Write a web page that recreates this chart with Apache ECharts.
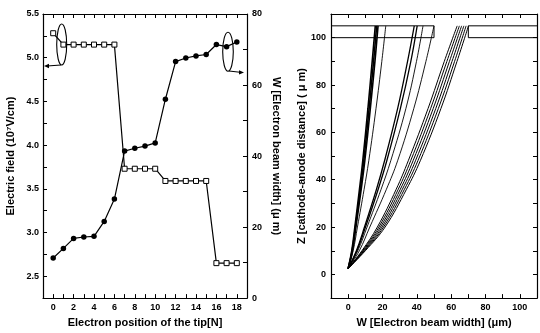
<!DOCTYPE html>
<html><head><meta charset="utf-8">
<script src="https://cdn.jsdelivr.net/npm/echarts@6/dist/echarts.min.js"></script>
<style>html,body{margin:0;padding:0;background:#fff}#c{width:540px;height:333px}</style>
</head><body><div id="c"></div>
<script>
// ---- Left panel data ----
const tipPositions = [0,1,2,3,4,5,6,7,8,9,10,11,12,13,14,15,16,17,18];
const electricField = [5.28,5.15,5.15,5.15,5.15,5.15,5.15,3.73,3.73,3.73,3.73,3.59,3.59,3.59,3.59,3.59,2.65,2.65,2.65];
const beamWidth = [11.3,14.0,16.8,17.2,17.4,21.6,27.9,41.4,42.2,42.8,43.7,56.0,66.6,67.6,68.2,68.6,71.4,70.8,72.1];
const tipTickLabels = [0,2,4,6,8,10,12,14,16,18];
const fieldTickLabels = [2.5,3.0,3.5,4.0,4.5,5.0,5.5];
const widthTickLabels = [0,20,40,60,80];

// ---- Right panel data: electron trajectories [W, Z] ----
const trajA1 = [[0,2.5],[2.1,10],[3.9,20],[6.6,36],[8.5,48],[11.5,70],[14.0,90],[15.8,105]];
const trajA2 = [[0,2.5],[2.3,10],[4.2,20],[7.1,36],[9.1,48],[12.2,70],[14.8,90],[16.6,105]];
const trajA3 = [[0,2.5],[2.5,10],[4.5,20],[7.6,36],[9.7,48],[12.9,70],[15.6,90],[17.4,105]];
const trajA4 = [[0,2.5],[2.9,10],[5.4,20],[9.3,36],[12.0,48],[16.2,70],[19.6,90],[21.9,105]];
const trajB1 = [[0,2.5],[4.8,10],[9.5,20],[16.5,36],[21.2,48],[28.8,70],[34.6,90],[38.5,105]];
const trajB2 = [[0,2.5],[5.1,10],[10.1,20],[17.5,36],[22.5,48],[30.4,70],[36.5,90],[40.2,105]];
const trajB3 = [[0,2.5],[5.6,10],[11.0,20],[19.2,36],[24.8,48],[33.6,70],[39.8,90],[43.6,105]];
const trajB4 = [[0,2.5],[6.5,10],[12.6,20],[22.3,36],[28.8,48],[38.2,70],[45.3,90],[50.0,105]];
const trajC1 = [[0,2.5],[8.0,10],[17.0,20],[28.0,36],[35.0,48],[46.5,70],[56.0,90],[63.5,105]];
const trajC2 = [[0,2.5],[8.4,10],[17.9,20],[29.2,36],[36.4,48],[48.0,70],[57.5,90],[64.8,105]];
const trajC3 = [[0,2.5],[8.8,10],[18.8,20],[30.4,36],[37.8,48],[49.5,70],[59.0,90],[66.1,105]];
const trajC4 = [[0,2.5],[9.2,10],[19.7,20],[31.6,36],[39.2,48],[51.0,70],[60.5,90],[67.4,105]];
const trajC5 = [[0,2.5],[9.6,10],[20.6,20],[32.8,36],[40.6,48],[52.5,70],[62.0,90],[68.7,105]];
const trajC6 = [[0,2.5],[10.0,10],[21.5,20],[34.0,36],[42.0,48],[54.0,70],[63.4,90],[70.1,105]];
const gateLeft = [[-10,105],[50,105],[50,100],[-10,100]];
const gateRight = [[110,105],[70,105],[70,100],[110,100]];
const wTickLabels = [0,20,40,60,80,100];
const zTickLabels = [0,20,40,60,80,100];

const FONT = '"Liberation Sans Narrow","Liberation Sans",Arial,sans-serif';
const lbl = {fontFamily: FONT, fontWeight: 'bold', fontSize: 9, color: '#000'};
const nameStyle = {fontFamily: FONT, fontWeight: 'bold', fontSize: 11, color: '#000'};
const axLine = {show: true, onZero: false, lineStyle: {color: '#000', width: 1.2}};
const tick = {show: true, inside: true, length: 4, lineStyle: {color: '#000', width: 1}};
const has = (arr, v) => arr.some(a => Math.abs(a - v) < 1e-6);

const chart = echarts.init(document.getElementById('c'), null, {renderer: 'canvas'});

const trajSeries = [];
const addTraj = (d, w) => trajSeries.push({type: 'line', xAxisIndex: 2, yAxisIndex: 2, data: d, smooth: 0.4, symbol: 'none', lineStyle: {color: '#000', width: w}, clip: true, silent: true});
[trajA1, trajA2, trajA3].forEach(d => addTraj(d, 1.6));
addTraj(trajA4, 0.9);
[trajB1, trajB2].forEach(d => addTraj(d, 1.3));
[trajB3, trajB4].forEach(d => addTraj(d, 0.9));
[trajC1, trajC2, trajC3, trajC4, trajC5, trajC6].forEach(d => addTraj(d, 1));
[gateLeft, gateRight].forEach(d => trajSeries.push({type: 'line', xAxisIndex: 2, yAxisIndex: 2, data: d, symbol: 'none', lineStyle: {color: '#000', width: 1}, clip: true, silent: true}));

chart.setOption({
  animation: false,
  backgroundColor: '#fff',
  grid: [
    {left: 43, top: 14, width: 204, height: 289},
    {left: 331, top: 14, width: 211, height: 285}
  ],
  xAxis: [
    {gridIndex: 0, type: 'value', position: 'bottom', min: -1, max: 19, interval: 1,
     axisLine: axLine, axisTick: tick, splitLine: {show: false},
     axisLabel: Object.assign({margin: 5, formatter: v => has(tipTickLabels, v) ? String(v) : ''}, lbl),
     name: 'Electron position of the tip[N]', nameLocation: 'middle', nameGap: 16, nameTextStyle: nameStyle},
    {gridIndex: 0, type: 'value', position: 'top', min: -1, max: 19, interval: 1,
     axisLine: axLine, axisTick: tick, axisLabel: {show: false}, splitLine: {show: false}},
    {gridIndex: 1, type: 'value', position: 'bottom', min: -10, max: 110, interval: 10,
     axisLine: axLine, axisTick: tick, splitLine: {show: false},
     axisLabel: Object.assign({margin: 5, formatter: v => has(wTickLabels, v) ? String(v) : ''}, lbl),
     name: 'W [Electron beam width] (\u03bcm)', nameLocation: 'middle', nameGap: 12, nameTextStyle: nameStyle},
    {gridIndex: 1, type: 'value', position: 'top', min: -10, max: 110, interval: 10,
     axisLine: axLine, axisTick: tick, axisLabel: {show: false}, splitLine: {show: false}}
  ],
  yAxis: [
    {gridIndex: 0, type: 'value', position: 'left', min: 2.25, max: 5.5, interval: 0.25,
     axisLine: axLine, axisTick: tick, splitLine: {show: false},
     axisLabel: Object.assign({margin: 4, formatter: v => has(fieldTickLabels, v) ? v.toFixed(1) : ''}, lbl),
     name: 'Electric field (10\u2077V/cm)', nameLocation: 'middle', nameGap: 27, nameTextStyle: nameStyle},
    {gridIndex: 0, type: 'value', position: 'right', min: 0, max: 80, interval: 10,
     axisLine: axLine, axisTick: tick, splitLine: {show: false},
     axisLabel: Object.assign({margin: 5, formatter: v => has(widthTickLabels, v) ? String(v) : ''}, lbl),
     name: 'W [Electron beam width] (\u03bc m)', nameLocation: 'middle', nameGap: 24, nameRotate: -90, nameTextStyle: nameStyle},
    {gridIndex: 1, type: 'value', position: 'left', min: -10, max: 110, interval: 10,
     axisLine: axLine, axisTick: tick, splitLine: {show: false},
     axisLabel: Object.assign({margin: 5, formatter: v => has(zTickLabels, v) ? String(v) : ''}, lbl),
     name: 'Z [cathode-anode distance] ( \u03bc m)', nameLocation: 'middle', nameGap: 24, nameTextStyle: nameStyle},
    {gridIndex: 1, type: 'value', position: 'right', min: -10, max: 110, interval: 10,
     axisLine: axLine, axisTick: tick, axisLabel: {show: false}, splitLine: {show: false}}
  ],
  series: [
    {type: 'line', xAxisIndex: 0, yAxisIndex: 0, data: tipPositions.map((x, i) => [x, electricField[i]]),
     symbol: 'rect', symbolSize: 5, lineStyle: {color: '#000', width: 1.2},
     itemStyle: {color: '#fff', borderColor: '#000', borderWidth: 1}},
    {type: 'line', xAxisIndex: 0, yAxisIndex: 1, data: tipPositions.map((x, i) => [x, beamWidth[i]]),
     symbol: 'circle', symbolSize: 5.5, lineStyle: {color: '#000', width: 1.2},
     itemStyle: {color: '#000', borderColor: '#000', borderWidth: 0}}
  ].concat(trajSeries),
  graphic: [
    {type: 'ellipse', shape: {cx: 61.7, cy: 44.5, rx: 5, ry: 20.5}, style: {fill: 'none', stroke: '#000', lineWidth: 1.1}},
    {type: 'polyline', shape: {points: [[61, 65], [47, 66]]}, style: {stroke: '#000', lineWidth: 1.1}},
    {type: 'polygon', shape: {points: [[44, 66], [49, 63.8], [49, 68.2]]}, style: {fill: '#000'}},
    {type: 'ellipse', shape: {cx: 228, cy: 51.7, rx: 5.3, ry: 19.5}, style: {fill: 'none', stroke: '#000', lineWidth: 1.1}},
    {type: 'polyline', shape: {points: [[229, 71], [240, 72.3]]}, style: {stroke: '#000', lineWidth: 1.1}},
    {type: 'polygon', shape: {points: [[244, 72.5], [239, 70.2], [239, 74.6]]}, style: {fill: '#000'}}
  ]
});
</script></body></html>
